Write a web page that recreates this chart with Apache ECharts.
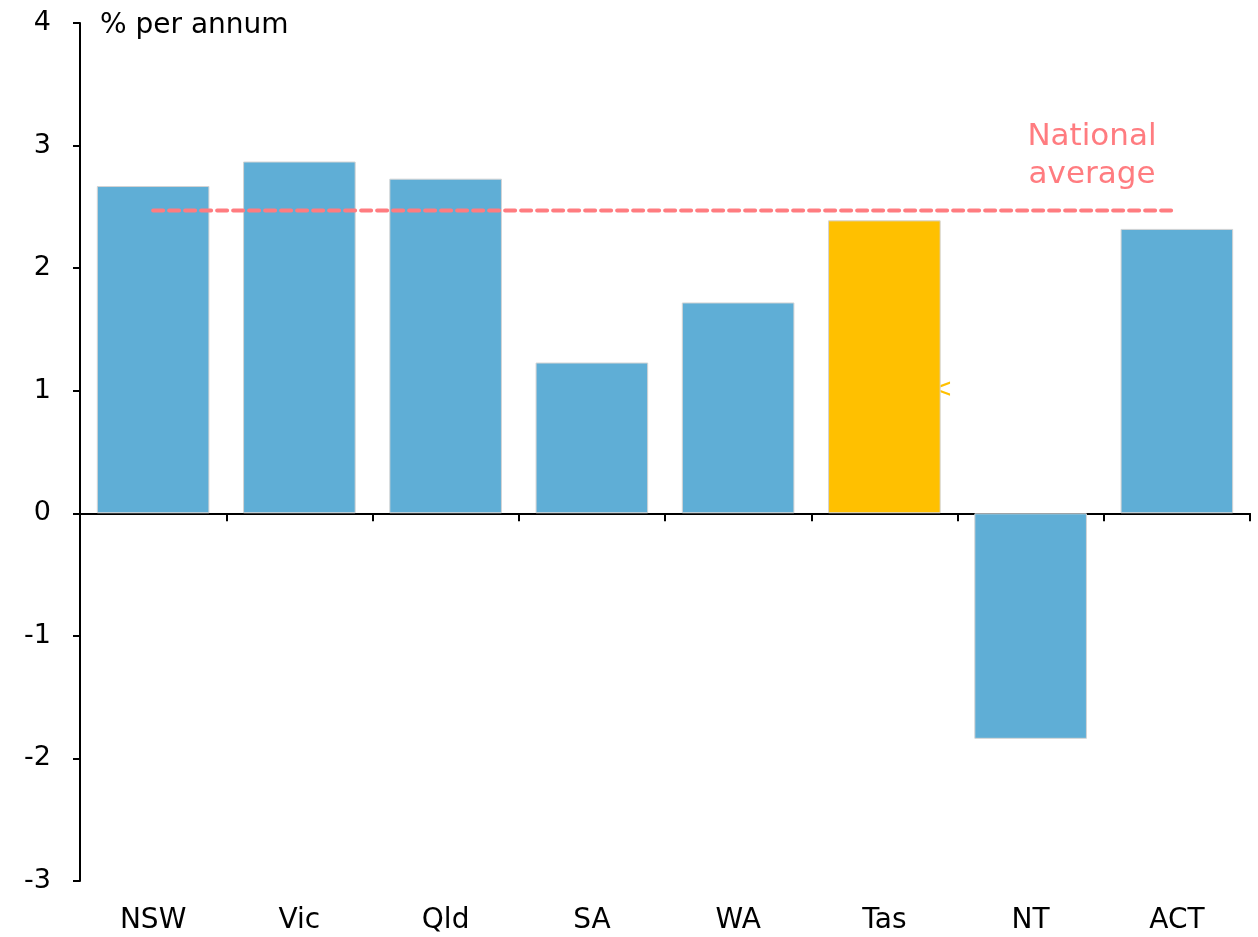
<!DOCTYPE html>
<html>
<head>
<meta charset="utf-8">
<script src="https://cdn.jsdelivr.net/npm/echarts@6/dist/echarts.min.js"></script>
<style>
  html, body { margin: 0; padding: 0; background: #fff; }
  #chart { width: 1258px; height: 937px; }
</style>
</head>
<body>
<div id="chart"></div>
<script>
// states / territories
const categories = ['NSW', 'Vic', 'Qld', 'SA', 'WA', 'Tas', 'NT', 'ACT'];
// % per annum
const growth = [2.67, 2.87, 2.73, 1.23, 1.72, 2.39, -1.84, 2.32];
const nationalAverage = 2.47;
const highlight = 'Tas';

const blue = '#5FAED6';
const gold = '#FFC000';
const pink = '#FF7C80';
const font = '"DejaVu Sans", Lato, sans-serif';

const chart = echarts.init(document.getElementById('chart'));

const barData = growth.map((v, i) => ({
    value: v,
    itemStyle: {color: categories[i] === highlight ? gold : blue}
}));

chart.setOption({
    animation: false,
    grid: {left: 80, right: 8, top: 23, bottom: 56},
    xAxis: [
        {
            type: 'category',
            data: categories,
            axisLine: {onZero: true, lineStyle: {color: '#000', width: 2}},
            axisTick: {show: true, length: 8, lineStyle: {color: '#000', width: 2}},
            axisLabel: {show: false},
            splitLine: {show: false}
        },
        {
            type: 'category',
            data: categories,
            position: 'bottom',
            axisLine: {show: false, onZero: false},
            axisTick: {show: false},
            axisLabel: {
                margin: 26,
                color: '#000',
                fontSize: 28,
                fontFamily: font
            }
        }
    ],
    yAxis: {
        type: 'value',
        min: -3,
        max: 4,
        interval: 1,
        axisLine: {show: true, lineStyle: {color: '#000', width: 2}},
        axisTick: {show: true, length: 7, lineStyle: {color: '#000', width: 2}},
        splitLine: {show: false},
        axisLabel: {
            margin: 29,
            color: '#000',
            fontSize: 27,
            fontFamily: font
        }
    },
    graphic: [
        {
            type: 'text',
            left: 100,
            top: 12,
            style: {
                text: '% per annum',
                fill: '#000',
                fontSize: 28,
                fontFamily: font
            }
        },
        {
            type: 'text',
            x: 1092,
            y: 118,
            style: {
                text: 'National\naverage',
                fill: pink,
                fontSize: 31,
                lineHeight: 38,
                align: 'center',
                fontFamily: font
            }
        },
        {
            type: 'text',
            x: 931,
            y: 377,
            style: {
                text: '<',
                fill: gold,
                fontSize: 26,
                fontFamily: font
            }
        }
    ],
    series: [
        {
            type: 'bar',
            data: barData,
            barWidth: '77%',
            itemStyle: {borderColor: '#D4D4D4', borderWidth: 1}
        },
        {
            type: 'line',
            data: categories.map(() => nationalAverage),
            symbol: 'none',
            z: 5,
            lineStyle: {color: pink, width: 4, type: [10, 6], cap: 'round'}
        }
    ]
});
</script>
</body>
</html>
